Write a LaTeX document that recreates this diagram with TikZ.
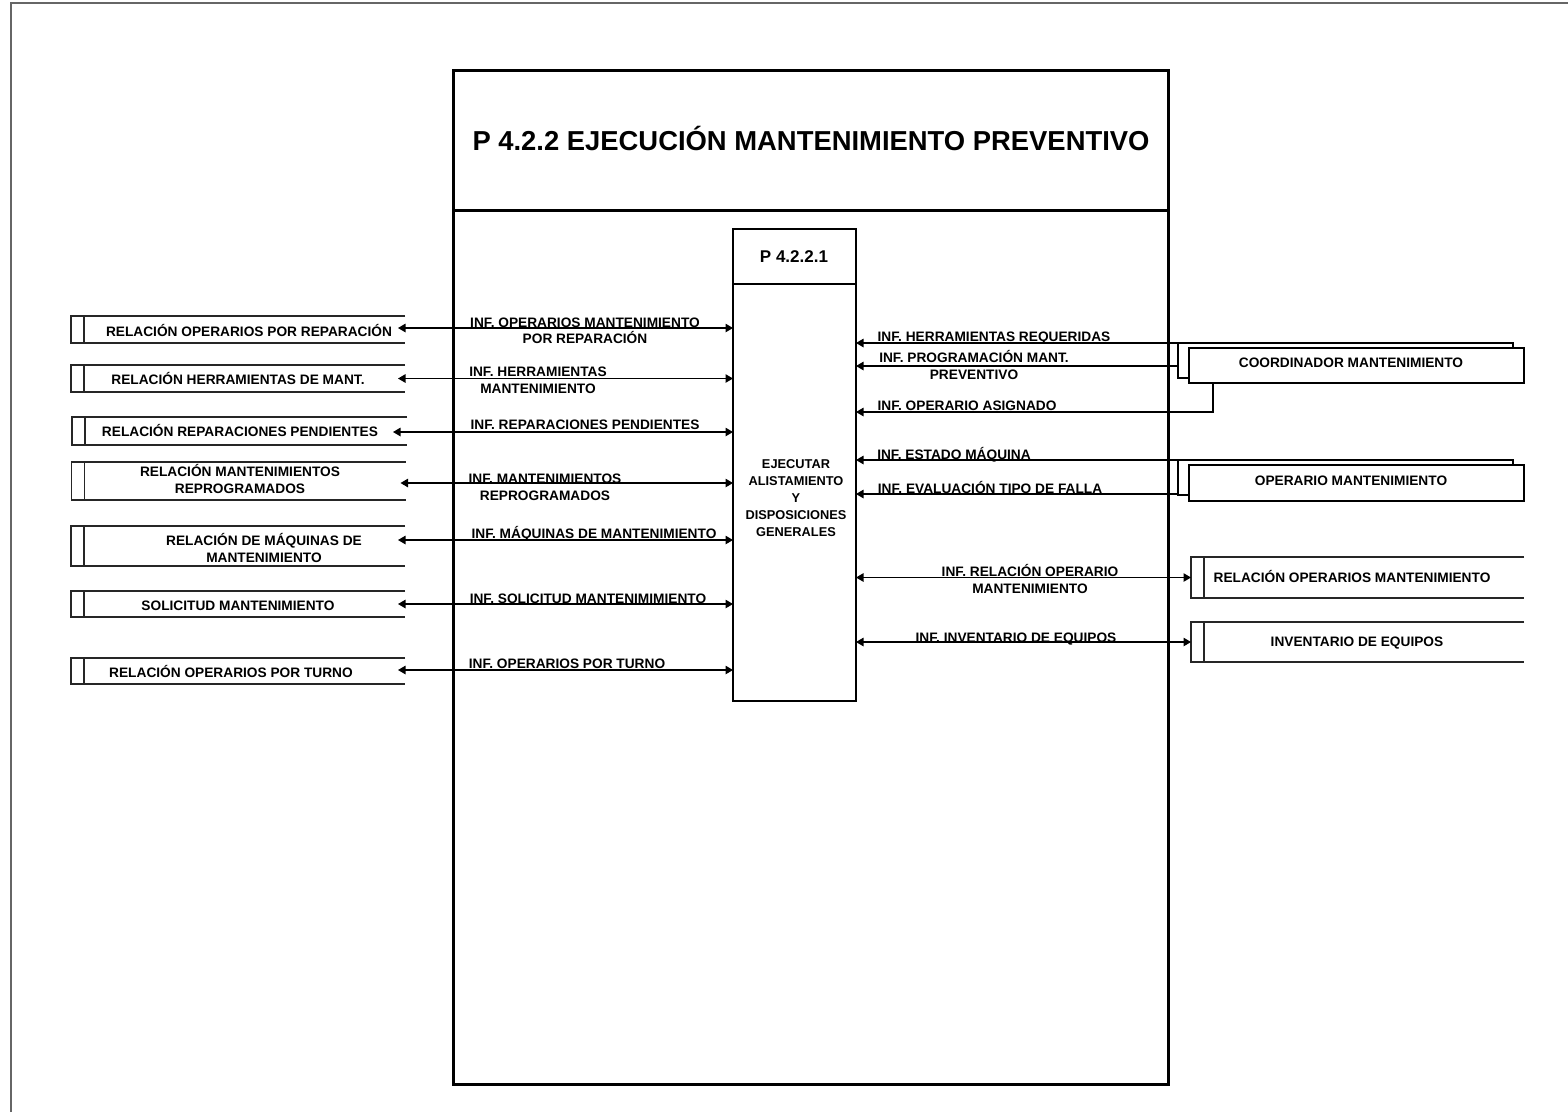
\documentclass[tikz,border=0pt]{standalone}
\usepackage{fontspec}
\setmainfont{Liberation Sans}
\usetikzlibrary{arrows.meta}
\begin{document}
\begin{tikzpicture}[x=1pt,y=-1pt,
  lbl/.style={font=\fontsize{13.7}{16.5}\selectfont\bfseries, inner sep=0pt, anchor=base, align=center},
  shapebox/.style={inner sep=0pt, outer sep=0pt},
  storeline/.style={line width=1.3pt, draw=black!85},
  entback/.style={shapebox, draw, line width=1.2pt, minimum width=335pt, minimum height=35pt},
  entfront/.style={shapebox, draw, fill=white, line width=1.2pt, minimum width=335pt},
  biflow/.style={{Triangle[length=7.5pt,width=8.5pt]}-{Triangle[length=7.5pt,width=8.5pt]}, line width=1.1pt},
  toflow/.style={-{Triangle[length=7.5pt,width=8.5pt]}, line width=1.1pt}
]
\useasboundingbox (0,0) rectangle (1568,1112);
\fill[white] (0,0) rectangle (1568,1112);
% outer frame
\coordinate (fbl) at (11,1112);
\coordinate (ftl) at (11,3);
\coordinate (ftr) at (1568,3);
\draw[line width=2pt, black!60] (fbl) -- (ftl) -- (ftr);

% main box
\node[shapebox, draw, line width=3pt, minimum width=715pt, minimum height=1014pt] (main) at (810.5,577) {};
\draw[line width=3pt] ([yshift=-140pt]main.north west) -- ([yshift=-140pt]main.north east);
\node[font=\fontsize{27.4}{30}\selectfont\bfseries, inner sep=0pt, anchor=base] (title) at (811,150) {P 4.2.2 EJECUCIÓN MANTENIMIENTO PREVENTIVO};

% process
\node[shapebox, draw, line width=1.2pt, minimum width=123pt, minimum height=472pt] (proc) at (794.5,465) {};
\draw[line width=1.2pt] ([yshift=-55pt]proc.north west) -- ([yshift=-55pt]proc.north east);
\node[font=\fontsize{17}{20}\selectfont\bfseries, inner sep=0pt, anchor=base] (pid) at (794,262) {P 4.2.2.1};
\node[font=\fontsize{12.8}{17}\selectfont\bfseries, inner sep=0pt, anchor=base, align=center] (ptxt) at (796,536) {EJECUTAR\\ALISTAMIENTO\\Y\\DISPOSICIONES\\GENERALES};

% left stores
\node[shapebox, minimum width=334pt, minimum height=27pt] (s1) at (238,329.5) {};
\node[shapebox, minimum width=334pt, minimum height=27pt] (s2) at (238,378.5) {};
\node[shapebox, minimum width=335pt, minimum height=28pt] (s3) at (239.5,431) {};
\node[shapebox, minimum width=334pt, minimum height=38pt] (s4) at (238.5,481) {};
\node[shapebox, minimum width=334pt, minimum height=40pt] (s5) at (238,546) {};
\node[shapebox, minimum width=334pt, minimum height=26pt] (s6) at (238,604) {};
\node[shapebox, minimum width=334pt, minimum height=26pt] (s7) at (238,671) {};
% right stores
\node[shapebox, minimum width=333pt, minimum height=41pt] (r1) at (1357.5,577.5) {};
\node[shapebox, minimum width=333pt, minimum height=40pt] (r2) at (1357.5,642) {};
\foreach \n in {s1,s2,s3,s4,s5,s6,s7,r1,r2} {
  \draw[storeline] (\n.north east) -- (\n.north west) -- (\n.south west) -- (\n.south east);
  \draw[storeline] ([xshift=13pt]\n.north west) -- ([xshift=13pt]\n.south west);
}
\node[lbl] (s1t) at (249,336) {RELACIÓN OPERARIOS POR REPARACIÓN};
\node[lbl] (s2t) at (238,384) {RELACIÓN HERRAMIENTAS DE MANT.};
\node[lbl] (s3t) at (240,436) {RELACIÓN REPARACIONES PENDIENTES};
\node[lbl] (s4t) at (240,493) {RELACIÓN MANTENIMIENTOS\\REPROGRAMADOS};
\node[lbl] (s5t) at (264,562) {RELACIÓN DE MÁQUINAS DE\\MANTENIMIENTO};
\node[lbl] (s6t) at (238,610) {SOLICITUD MANTENIMIENTO};
\node[lbl] (s7t) at (231,677) {RELACIÓN OPERARIOS POR TURNO};
\node[lbl] (r1t) at (1352,582) {RELACIÓN OPERARIOS MANTENIMIENTO};
\node[lbl] (r2t) at (1357,646) {INVENTARIO DE EQUIPOS};

% external entities
\node[entback] (c1b) at (1345.5,360.5) {};
\node[entfront, minimum height=35pt] (c1) at (1356.5,365.5) {};
\node[lbl] (c1t) at (1351,367) {COORDINADOR MANTENIMIENTO};
\node[entback] (o1b) at (1345.5,477.5) {};
\node[entfront, minimum height=36pt] (o1) at (1356.5,483) {};
\node[lbl] (o1t) at (1351,485) {OPERARIO MANTENIMIENTO};

% left flows
\draw[biflow, shorten <=-7pt] ([yshift=1.5pt]s1.east) -- ([yshift=1.5pt]s1.east -| proc.west);
\draw[biflow, shorten <=-7pt] (s2.east) -- (s2.east -| proc.west);
\draw[biflow, shorten <=-14pt] ([yshift=-1pt]s3.east) -- ([yshift=-1pt]s3.east -| proc.west);
\draw[biflow, shorten <=-5pt] ([yshift=-2pt]s4.east) -- ([yshift=-2pt]s4.east -| proc.west);
\draw[biflow, shorten <=-7pt] ([yshift=6pt]s5.east) -- ([yshift=6pt]s5.east -| proc.west);
\draw[biflow, shorten <=-7pt] (s6.east) -- (s6.east -| proc.west);
\draw[biflow, shorten <=-7pt] ([yshift=1pt]s7.east) -- ([yshift=1pt]s7.east -| proc.west);
\node[lbl] (l1) at (585,343.5) {INF. OPERARIOS MANTENIMIENTO\\POR REPARACIÓN};
\node[lbl] (l2) at (538,393) {INF. HERRAMIENTAS\\MANTENIMIENTO};
\node[lbl] (l3) at (585,429) {INF. REPARACIONES PENDIENTES};
\node[lbl] (l4) at (545,500) {INF. MANTENIMIENTOS\\REPROGRAMADOS};
\node[lbl] (l5) at (594,538) {INF. MÁQUINAS DE MANTENIMIENTO};
\node[lbl] (l6) at (588,603) {INF. SOLICITUD MANTENIMIMIENTO};
\node[lbl] (l7) at (567,668) {INF. OPERARIOS POR TURNO};

% right inbound flows
\coordinate (c1j) at (1213,412);
\draw[toflow] (c1b.north west) -- (c1b.north west -| proc.east);
\draw[toflow] ([yshift=-23pt]c1b.north west) -- ([yshift=-23pt]c1b.north west -| proc.east);
\draw[toflow] ([xshift=24pt]c1.south west) -- (c1j) -- (c1j -| proc.east);
\draw[toflow] (o1b.north west) -- (o1b.north west -| proc.east);
\draw[toflow] ([yshift=1pt]o1b.south west) -- ([yshift=1pt]o1b.south west -| proc.east);
\node[lbl] (rl1) at (994,341) {INF. HERRAMIENTAS REQUERIDAS};
\node[lbl] (rl2) at (974,379) {INF. PROGRAMACIÓN MANT.\\PREVENTIVO};
\node[lbl] (rl3) at (967,410) {INF. OPERARIO ASIGNADO};
\node[lbl] (rl4) at (954,459) {INF. ESTADO MÁQUINA};
\node[lbl] (rl5) at (990,493) {INF. EVALUACIÓN TIPO DE FALLA};

% right bidirectional flows
\draw[biflow] (r1.west -| proc.east) -- (r1.west);
\draw[biflow] (r2.west -| proc.east) -- (r2.west);
\node[lbl] (rl6) at (1030,593) {INF. RELACIÓN OPERARIO\\MANTENIMIENTO};
\node[lbl] (rl7) at (1016,642) {INF. INVENTARIO DE EQUIPOS};
\end{tikzpicture}
\end{document}
